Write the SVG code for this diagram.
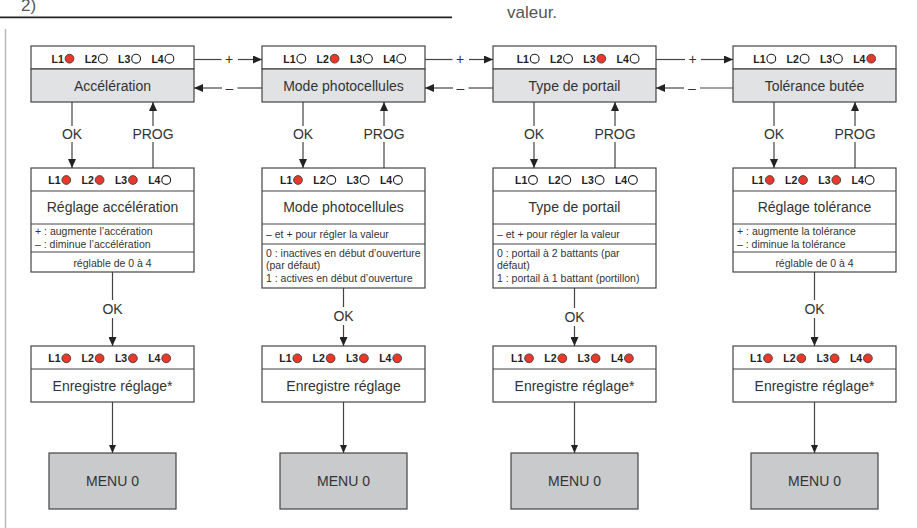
<svg xmlns="http://www.w3.org/2000/svg" xmlns:xlink="http://www.w3.org/1999/xlink" width="917" height="528" viewBox="0 0 917 528">
<style>
  text { font-family: "Liberation Sans", Arial, sans-serif; fill: #333; }
  .box { fill: #fff; stroke: #444; stroke-width: 1.2; }
  .gray { fill: #e1e2e4; stroke: #444; stroke-width: 1.2; }
  .menu { fill: #c9cacc; stroke: #444; stroke-width: 1.2; }
  .div { stroke: #444; stroke-width: 1.2; fill: none; }
  .led { font-size: 10.5px; font-weight: bold; fill: #222; }
  .t14 { font-size: 14px; text-anchor: middle; }
  .sm { font-size: 10.5px; }
  .smc { font-size: 10.5px; text-anchor: middle; }
  .lbl { font-size: 14px; text-anchor: middle; }
  .c { fill: none; stroke: #444; stroke-width: 1.2; }
  .on { fill: #e8392a; stroke: #333; stroke-width: 0.8; }
  .off { fill: #fff; stroke: #222; stroke-width: 1.1; }
</style>
<defs>
  <marker id="ah" markerWidth="9" markerHeight="8" refX="9" refY="4" orient="auto" markerUnits="userSpaceOnUse">
    <path d="M0,0 L9,4 L0,8 z" fill="#222"/>
  </marker>
  <marker id="ahs" markerWidth="8" markerHeight="7" refX="8" refY="3.5" orient="auto" markerUnits="userSpaceOnUse">
    <path d="M0,0 L8,3.5 L0,7 z" fill="#222"/>
  </marker>
  <circle id="on" r="4.4" class="on"/>
  <circle id="off" r="4.4" class="off"/>
</defs>

<!-- header -->
<g id="header">
  <text x="21" y="11" style="font-size:17px;fill:#555">2)</text>
  <line x1="0" y1="17.3" x2="452" y2="17.3" stroke="#222" stroke-width="1.8"/>
  <text x="507" y="18" style="font-size:17px;fill:#555">valeur.</text>
  <line x1="5.5" y1="29" x2="5.5" y2="528" stroke="#bbb" stroke-width="1.5"/>
</g>

<!-- ============ TOP ROW ============ -->
<g id="top1">
  <rect class="box" x="31" y="46" width="163" height="23"/>
  <rect class="gray" x="31" y="69" width="163" height="33"/>
  <text class="led" x="51.5" y="62.5">L1</text><use xlink:href="#on" x="69.5" y="58.7"/>
  <text class="led" x="84.8" y="62.5">L2</text><use xlink:href="#off" x="102.8" y="58.7"/>
  <text class="led" x="118.1" y="62.5">L3</text><use xlink:href="#off" x="136.1" y="58.7"/>
  <text class="led" x="151.4" y="62.5">L4</text><use xlink:href="#off" x="169.4" y="58.7"/>
  <text class="t14" x="112.5" y="90.5">Accélération</text>
</g>
<g id="top2">
  <rect class="box" x="262" y="46" width="163" height="23"/>
  <rect class="gray" x="262" y="69" width="163" height="33"/>
  <text class="led" x="283.3" y="62.5">L1</text><use xlink:href="#off" x="301.3" y="58.7"/>
  <text class="led" x="316.6" y="62.5">L2</text><use xlink:href="#on" x="334.6" y="58.7"/>
  <text class="led" x="349.9" y="62.5">L3</text><use xlink:href="#off" x="367.9" y="58.7"/>
  <text class="led" x="383.2" y="62.5">L4</text><use xlink:href="#off" x="401.2" y="58.7"/>
  <text class="t14" x="343.5" y="90.5">Mode photocellules</text>
</g>
<g id="top3">
  <rect class="box" x="493" y="46" width="163" height="23"/>
  <rect class="gray" x="493" y="69" width="163" height="33"/>
  <text class="led" x="516.7" y="62.5">L1</text><use xlink:href="#off" x="534.7" y="58.7"/>
  <text class="led" x="550" y="62.5">L2</text><use xlink:href="#off" x="568" y="58.7"/>
  <text class="led" x="583.3" y="62.5">L3</text><use xlink:href="#on" x="601.3" y="58.7"/>
  <text class="led" x="616.6" y="62.5">L4</text><use xlink:href="#off" x="634.6" y="58.7"/>
  <text class="t14" x="574.5" y="90.5">Type de portail</text>
</g>
<g id="top4">
  <rect class="box" x="733" y="46" width="163" height="23"/>
  <rect class="gray" x="733" y="69" width="163" height="33"/>
  <text class="led" x="753.3" y="62.5">L1</text><use xlink:href="#off" x="771.3" y="58.7"/>
  <text class="led" x="786.6" y="62.5">L2</text><use xlink:href="#off" x="804.6" y="58.7"/>
  <text class="led" x="819.9" y="62.5">L3</text><use xlink:href="#off" x="837.9" y="58.7"/>
  <text class="led" x="853.2" y="62.5">L4</text><use xlink:href="#on" x="871.2" y="58.7"/>
  <text class="t14" x="814.5" y="90.5">Tolérance butée</text>
</g>

<!-- ============ MIDDLE ROW ============ -->
<g id="mid1">
  <rect class="box" x="31" y="168" width="163" height="104"/>
  <path class="div" d="M31,191 H194 M31,224 H194 M31,252 H194"/>
  <text class="led" x="48.3" y="183.8">L1</text><use xlink:href="#on" x="66.3" y="180"/>
  <text class="led" x="81.6" y="183.8">L2</text><use xlink:href="#on" x="99.6" y="180"/>
  <text class="led" x="114.9" y="183.8">L3</text><use xlink:href="#on" x="132.9" y="180"/>
  <text class="led" x="148.2" y="183.8">L4</text><use xlink:href="#off" x="166.2" y="180"/>
  <text class="t14" x="112.5" y="212">Réglage accélération</text>
  <text class="sm" x="35" y="235">+ : augmente l’accération</text>
  <text class="sm" x="35" y="248">– : diminue l’accélération</text>
  <text class="smc" x="112.5" y="266.5">réglable de 0 à 4</text>
</g>
<g id="mid2">
  <rect class="box" x="262" y="168" width="163" height="120"/>
  <path class="div" d="M262,191 H425 M262,224 H425 M262,244 H425"/>
  <text class="led" x="280" y="183.8">L1</text><use xlink:href="#on" x="298" y="180"/>
  <text class="led" x="313.3" y="183.8">L2</text><use xlink:href="#off" x="331.3" y="180"/>
  <text class="led" x="346.6" y="183.8">L3</text><use xlink:href="#off" x="364.6" y="180"/>
  <text class="led" x="379.9" y="183.8">L4</text><use xlink:href="#off" x="397.9" y="180"/>
  <text class="t14" x="343.5" y="212">Mode photocellules</text>
  <text class="sm" x="266" y="238">– et + pour régler la valeur</text>
  <text class="sm" x="266" y="256.5">0 : inactives en début d’ouverture</text>
  <text class="sm" x="266" y="269">(par défaut)</text>
  <text class="sm" x="266" y="282">1 : actives en début d’ouverture</text>
</g>
<g id="mid3">
  <rect class="box" x="493" y="168" width="163" height="120"/>
  <path class="div" d="M493,191 H656 M493,224 H656 M493,244 H656"/>
  <text class="led" x="515" y="183.8">L1</text><use xlink:href="#off" x="533" y="180"/>
  <text class="led" x="548.3" y="183.8">L2</text><use xlink:href="#off" x="566.3" y="180"/>
  <text class="led" x="581.6" y="183.8">L3</text><use xlink:href="#off" x="599.6" y="180"/>
  <text class="led" x="614.9" y="183.8">L4</text><use xlink:href="#off" x="632.9" y="180"/>
  <text class="t14" x="574.5" y="212">Type de portail</text>
  <text class="sm" x="497" y="238">– et + pour régler la valeur</text>
  <text class="sm" x="497" y="256.5">0 : portail à 2 battants (par</text>
  <text class="sm" x="497" y="269">défaut)</text>
  <text class="sm" x="497" y="282">1 : portail à 1 battant (portillon)</text>
</g>
<g id="mid4">
  <rect class="box" x="733" y="168" width="163" height="104"/>
  <path class="div" d="M733,191 H896 M733,224 H896 M733,252 H896"/>
  <text class="led" x="751.7" y="183.8">L1</text><use xlink:href="#on" x="769.7" y="180"/>
  <text class="led" x="785" y="183.8">L2</text><use xlink:href="#on" x="803" y="180"/>
  <text class="led" x="818.3" y="183.8">L3</text><use xlink:href="#on" x="836.3" y="180"/>
  <text class="led" x="851.6" y="183.8">L4</text><use xlink:href="#off" x="869.6" y="180"/>
  <text class="t14" x="814.5" y="212">Réglage tolérance</text>
  <text class="sm" x="737" y="235">+ : augmente la tolérance</text>
  <text class="sm" x="737" y="248">– : diminue la tolérance</text>
  <text class="smc" x="814.5" y="266.5">réglable de 0 à 4</text>
</g>

<!-- ============ SAVE ROW ============ -->
<g id="save1">
  <rect class="box" x="31" y="346" width="163" height="56"/>
  <path class="div" d="M31,369 H194"/>
  <text class="led" x="48.3" y="362.1">L1</text><use xlink:href="#on" x="66.3" y="358.3"/>
  <text class="led" x="81.6" y="362.1">L2</text><use xlink:href="#on" x="99.6" y="358.3"/>
  <text class="led" x="114.9" y="362.1">L3</text><use xlink:href="#on" x="132.9" y="358.3"/>
  <text class="led" x="148.2" y="362.1">L4</text><use xlink:href="#on" x="166.2" y="358.3"/>
  <text class="t14" x="112.5" y="390.5">Enregistre réglage*</text>
</g>
<g id="save2">
  <rect class="box" x="262" y="346" width="163" height="56"/>
  <path class="div" d="M262,369 H425"/>
  <text class="led" x="279.3" y="362.1">L1</text><use xlink:href="#on" x="297.3" y="358.3"/>
  <text class="led" x="312.6" y="362.1">L2</text><use xlink:href="#on" x="330.6" y="358.3"/>
  <text class="led" x="345.9" y="362.1">L3</text><use xlink:href="#on" x="363.9" y="358.3"/>
  <text class="led" x="379.2" y="362.1">L4</text><use xlink:href="#on" x="397.2" y="358.3"/>
  <text class="t14" x="343.5" y="390.5">Enregistre réglage</text>
</g>
<g id="save3">
  <rect class="box" x="493" y="346" width="163" height="56"/>
  <path class="div" d="M493,369 H656"/>
  <text class="led" x="511" y="362.1">L1</text><use xlink:href="#on" x="529" y="358.3"/>
  <text class="led" x="544.3" y="362.1">L2</text><use xlink:href="#on" x="562.3" y="358.3"/>
  <text class="led" x="577.6" y="362.1">L3</text><use xlink:href="#on" x="595.6" y="358.3"/>
  <text class="led" x="610.9" y="362.1">L4</text><use xlink:href="#on" x="628.9" y="358.3"/>
  <text class="t14" x="574.5" y="390.5">Enregistre réglage*</text>
</g>
<g id="save4">
  <rect class="box" x="733" y="346" width="163" height="56"/>
  <path class="div" d="M733,369 H896"/>
  <text class="led" x="750" y="362.1">L1</text><use xlink:href="#on" x="768" y="358.3"/>
  <text class="led" x="783.3" y="362.1">L2</text><use xlink:href="#on" x="801.3" y="358.3"/>
  <text class="led" x="816.6" y="362.1">L3</text><use xlink:href="#on" x="834.6" y="358.3"/>
  <text class="led" x="849.9" y="362.1">L4</text><use xlink:href="#on" x="867.9" y="358.3"/>
  <text class="t14" x="814.5" y="390.5">Enregistre réglage*</text>
</g>

<!-- ============ MENU ROW ============ -->
<g id="menu1"><rect class="menu" x="49" y="453" width="127" height="56"/><text class="t14" x="112.5" y="486">MENU 0</text></g>
<g id="menu2"><rect class="menu" x="280" y="453" width="127" height="56"/><text class="t14" x="343.5" y="486">MENU 0</text></g>
<g id="menu3"><rect class="menu" x="511" y="453" width="127" height="56"/><text class="t14" x="574.5" y="486">MENU 0</text></g>
<g id="menu4"><rect class="menu" x="751" y="453" width="127" height="56"/><text class="t14" x="814.5" y="486">MENU 0</text></g>

<!-- ============ CONNECTORS ============ -->
<g id="connectors">
  <!-- + / – between top boxes -->
  <path class="c" d="M194,59.5 H221.5"/>
  <path class="c" d="M238,59.5 H262" marker-end="url(#ah)"/>
  <text class="lbl" x="229" y="63.5">+</text>
  <path class="c" d="M262,88 H237.5"/>
  <path class="c" d="M222,88 H194" marker-end="url(#ah)"/>
  <text class="lbl" x="229.5" y="92.5">–</text>

  <path class="c" d="M425,59.5 H452.5"/>
  <path class="c" d="M469,59.5 H493" marker-end="url(#ah)"/>
  <text class="lbl" x="460" y="63.5">+</text>
  <path class="c" d="M493,88 H468.5"/>
  <path class="c" d="M453,88 H425" marker-end="url(#ah)"/>
  <text class="lbl" x="460.5" y="92.5">–</text>

  <path class="c" d="M656,59.5 H685"/>
  <path class="c" d="M701,59.5 H733" marker-end="url(#ah)"/>
  <text class="lbl" x="692.5" y="63.5">+</text>
  <path class="c" d="M733,88 H700"/>
  <path class="c" d="M684,88 H656" marker-end="url(#ah)"/>
  <text class="lbl" x="692" y="92.5">–</text>

  <!-- OK down / PROG up -->
  <path class="c" d="M72,102 V126"/>
  <path class="c" d="M72,142 V168" marker-end="url(#ah)"/>
  <text class="lbl" x="72" y="138.5">OK</text>
  <path class="c" d="M153,168 V142"/>
  <path class="c" d="M153,126 V102" marker-end="url(#ah)"/>
  <text class="lbl" x="153" y="138.5">PROG</text>

  <path class="c" d="M303,102 V126"/>
  <path class="c" d="M303,142 V168" marker-end="url(#ah)"/>
  <text class="lbl" x="303" y="138.5">OK</text>
  <path class="c" d="M384,168 V142"/>
  <path class="c" d="M384,126 V102" marker-end="url(#ah)"/>
  <text class="lbl" x="384" y="138.5">PROG</text>

  <path class="c" d="M534,102 V126"/>
  <path class="c" d="M534,142 V168" marker-end="url(#ah)"/>
  <text class="lbl" x="534" y="138.5">OK</text>
  <path class="c" d="M615,168 V142"/>
  <path class="c" d="M615,126 V102" marker-end="url(#ah)"/>
  <text class="lbl" x="615" y="138.5">PROG</text>

  <path class="c" d="M774,102 V126"/>
  <path class="c" d="M774,142 V168" marker-end="url(#ah)"/>
  <text class="lbl" x="774" y="138.5">OK</text>
  <path class="c" d="M855,168 V142"/>
  <path class="c" d="M855,126 V102" marker-end="url(#ah)"/>
  <text class="lbl" x="855" y="138.5">PROG</text>

  <!-- OK down to save -->
  <path class="c" d="M112.5,272 V300"/>
  <path class="c" d="M112.5,318 V346" marker-end="url(#ah)"/>
  <text class="lbl" x="112.5" y="314">OK</text>

  <path class="c" d="M343.5,288 V307"/>
  <path class="c" d="M343.5,325 V346" marker-end="url(#ah)"/>
  <text class="lbl" x="343.5" y="321">OK</text>

  <path class="c" d="M574.5,288 V308"/>
  <path class="c" d="M574.5,326 V346" marker-end="url(#ah)"/>
  <text class="lbl" x="574.5" y="322">OK</text>

  <path class="c" d="M814.5,272 V300"/>
  <path class="c" d="M814.5,318 V346" marker-end="url(#ah)"/>
  <text class="lbl" x="814.5" y="314">OK</text>

  <!-- save to menu -->
  <path class="c" d="M112.5,402 V453" marker-end="url(#ahs)"/>
  <path class="c" d="M343.5,402 V453" marker-end="url(#ahs)"/>
  <path class="c" d="M574.5,402 V453" marker-end="url(#ahs)"/>
  <path class="c" d="M814.5,402 V453" marker-end="url(#ahs)"/>
</g>
</svg>
